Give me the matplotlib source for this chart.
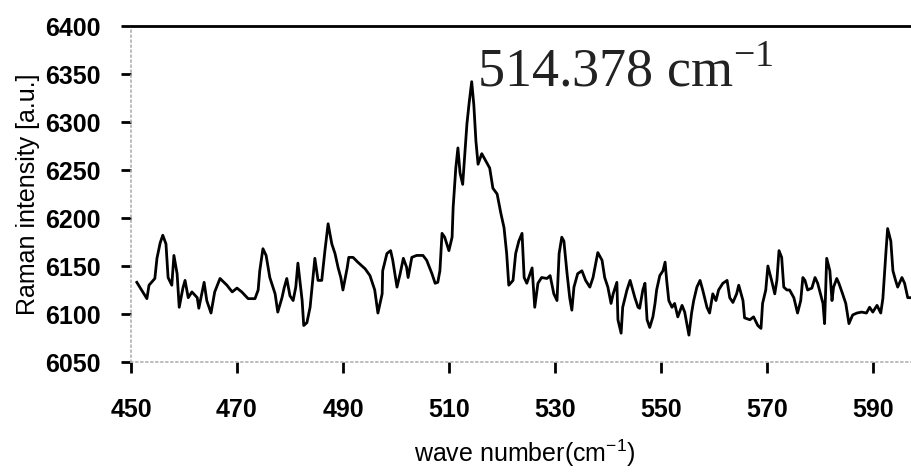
import matplotlib
matplotlib.use("Agg")
import matplotlib.pyplot as plt

wavenumber = [451.1, 453.0, 453.4, 454.5, 454.9, 455.5, 456.0, 456.6, 457.0, 457.7,
              458.1, 458.7, 459.1, 459.8, 460.2, 460.8, 461.5, 462.5, 462.8, 463.8,
              464.3, 465.1, 465.8, 466.8, 468.1, 469.1, 470.0, 470.9, 472.1, 473.4,
              474.0, 474.3, 474.9, 475.5, 476.2, 477.2, 477.7, 478.5, 478.9, 479.4,
              480.0, 480.6, 481.1, 481.5, 482.3, 482.6, 483.2, 483.8, 484.3, 484.7,
              485.3, 486.0, 486.6, 487.2, 487.9, 488.5, 489.1, 489.6, 490.0, 490.8,
              491.1, 491.9, 492.8, 494.2, 495.1, 496.0, 496.6,
              497.4, 497.5, 498.3, 499.0, 499.4, 500.2, 500.8, 501.4, 502.0, 502.3,
              503.0, 503.9, 505.1, 505.8, 506.8, 507.4, 507.9, 508.3, 508.7, 509.2,
              510.0, 510.6, 510.8, 511.3, 511.7, 512.1, 512.6, 513.4, 513.8, 514.3,
              514.7, 515.1, 515.5, 516.2, 516.8, 517.7, 518.3, 519.1, 519.8, 520.4,
              520.9, 521.3, 522.1, 522.6, 523.2, 523.8, 524.2, 524.7, 525.7, 526.2,
              526.8, 527.5, 528.5, 529.1, 529.8, 530.4, 530.8, 531.3, 531.7, 532.3,
              532.8, 533.2, 533.6, 534.3, 535.1, 535.8, 536.6, 537.2, 538.1, 538.9,
              539.4, 540.0, 540.6, 541.0, 541.7, 541.9, 542.5, 542.8, 543.6, 544.2,
              545.1, 545.7,
              546.0, 546.6, 547.0, 547.4, 547.9, 548.5, 548.9, 549.2, 549.8, 550.4,
              550.8, 551.1, 551.5, 552.1, 552.6, 553.2, 554.0, 554.5, 554.9, 555.3,
              555.8, 556.2, 556.8, 557.4, 557.9, 558.7, 559.2, 559.8, 560.4, 560.9,
              561.7, 562.5, 563.0, 563.6, 564.3, 564.7, 565.5, 565.8, 566.8, 567.5,
              568.3, 568.9, 569.2, 569.8, 570.2, 570.9, 571.5, 571.9, 572.3, 572.8,
              573.2, 573.8, 574.3, 575.1, 575.8, 576.4, 576.8, 577.2, 577.7, 578.5,
              579.1, 579.6, 580.6, 580.9, 581.3, 581.9, 582.3, 582.6, 583.2, 583.6,
              584.3, 584.9, 585.5, 586.2, 587.0, 587.9, 588.8, 589.4, 590.0, 590.8,
              591.5, 591.9, 592.5, 592.8, 593.4, 593.8, 594.3, 594.7, 595.5, 596.0,
              596.6, 597.4]

intensity = [6133, 6116, 6130, 6137, 6158, 6174, 6182, 6173, 6138, 6130,
             6161, 6142, 6107, 6127, 6135, 6117, 6123, 6117, 6106, 6133,
             6114, 6101, 6123, 6137, 6130, 6123, 6127, 6123, 6116, 6116,
             6125, 6145, 6168, 6161, 6138, 6121, 6102, 6117, 6127, 6137,
             6119, 6114, 6128, 6153, 6114, 6088, 6091, 6107, 6135, 6158,
             6135, 6135, 6166, 6194, 6173, 6163, 6148, 6138, 6125, 6148,
             6159, 6159, 6154, 6147, 6140, 6125, 6101,
             6121, 6145, 6163, 6166, 6156, 6128, 6142, 6158, 6149, 6138,
             6159, 6161, 6161, 6156, 6142, 6132, 6133, 6145, 6184, 6180,
             6166, 6180, 6211, 6252, 6273, 6247, 6235, 6298, 6319, 6342,
             6318, 6280, 6256, 6267, 6261, 6252, 6231, 6225, 6205, 6190,
             6163, 6130, 6135, 6163, 6176, 6184, 6138, 6132, 6148, 6107,
             6132, 6138, 6137, 6140, 6121, 6114, 6163, 6180, 6176, 6142,
             6117, 6104, 6128, 6142, 6145, 6135, 6128, 6138, 6164, 6156,
             6138, 6128, 6111, 6121, 6133, 6094, 6080, 6107, 6125, 6135,
             6117, 6107,
             6106, 6125, 6132, 6094, 6086, 6097, 6111, 6125, 6140, 6145,
             6154, 6135, 6114, 6107, 6111, 6097, 6109, 6102, 6090, 6078,
             6101, 6114, 6128, 6135, 6125, 6107, 6101, 6121, 6114, 6125,
             6132, 6135, 6117, 6112, 6121, 6130, 6114, 6096, 6094, 6097,
             6088, 6085, 6111, 6125, 6150, 6135, 6121, 6135, 6166, 6159,
             6128, 6125, 6125, 6117, 6101, 6114, 6138, 6135, 6125, 6127,
             6138, 6132, 6111, 6090, 6158, 6145, 6114, 6128, 6137, 6132,
             6121, 6111, 6090, 6099, 6101, 6102, 6101, 6107, 6102, 6109,
             6101, 6116, 6166, 6189, 6176, 6145, 6135, 6128, 6138, 6132,
             6117, 6117]

x_ticks = [450, 470, 490, 510, 530, 550, 570, 590]
y_ticks = [6050, 6100, 6150, 6200, 6250, 6300, 6350, 6400]
peak_label = "514.378 cm$^{\\mathrm{-1}}$"
x_label = "wave number(cm$^{\\mathregular{-1}}$)"
y_label = "Raman intensity [a.u.]"

plt.rcParams['mathtext.fontset'] = 'custom'
plt.rcParams['mathtext.rm'] = 'Liberation Serif'

fig = plt.figure(figsize=(9.12, 4.76), dpi=100)
ax = fig.add_axes([131 / 912, 1 - 362 / 476, 1 - 131 / 912, (362 - 26) / 476])

ax.plot(wavenumber, intensity, color='black', linewidth=2.0)

ax.set_xlim(450, 597.4)
ax.set_ylim(6050, 6400)
ax.set_xticks(x_ticks)
ax.set_yticks(y_ticks)

tick_font = dict(family='Liberation Sans', weight='bold', size=18)
ax.set_xticklabels([str(v) for v in x_ticks], **tick_font)
ax.set_yticklabels([str(v) for v in y_ticks], **tick_font)
ax.tick_params(axis='y', direction='out', length=7, width=2, color='black', pad=15)
ax.tick_params(axis='x', direction='out', length=8, width=2, color='black', pad=18)

ax.spines['top'].set_color('black')
ax.spines['top'].set_linewidth(2)
ax.spines['right'].set_visible(False)
for side in ('left', 'bottom'):
    ax.spines[side].set_color('#b0b0b0')
    ax.spines[side].set_linestyle((0, (1, 2)))
    ax.spines[side].set_linewidth(1.2)

ax.text(515.3, 6337, peak_label, family='Liberation Serif', size=39,
        color='#222222', ha='left', va='baseline')

fig.text(525 / 912, 1 - 453 / 476, x_label, family='Liberation Sans', size=18,
         ha='center', va='center')
fig.text(28 / 912, 1 - 194 / 476, y_label, family='Liberation Sans', size=18,
         ha='center', va='center', rotation=90)

fig.savefig('out.png', dpi=100)
